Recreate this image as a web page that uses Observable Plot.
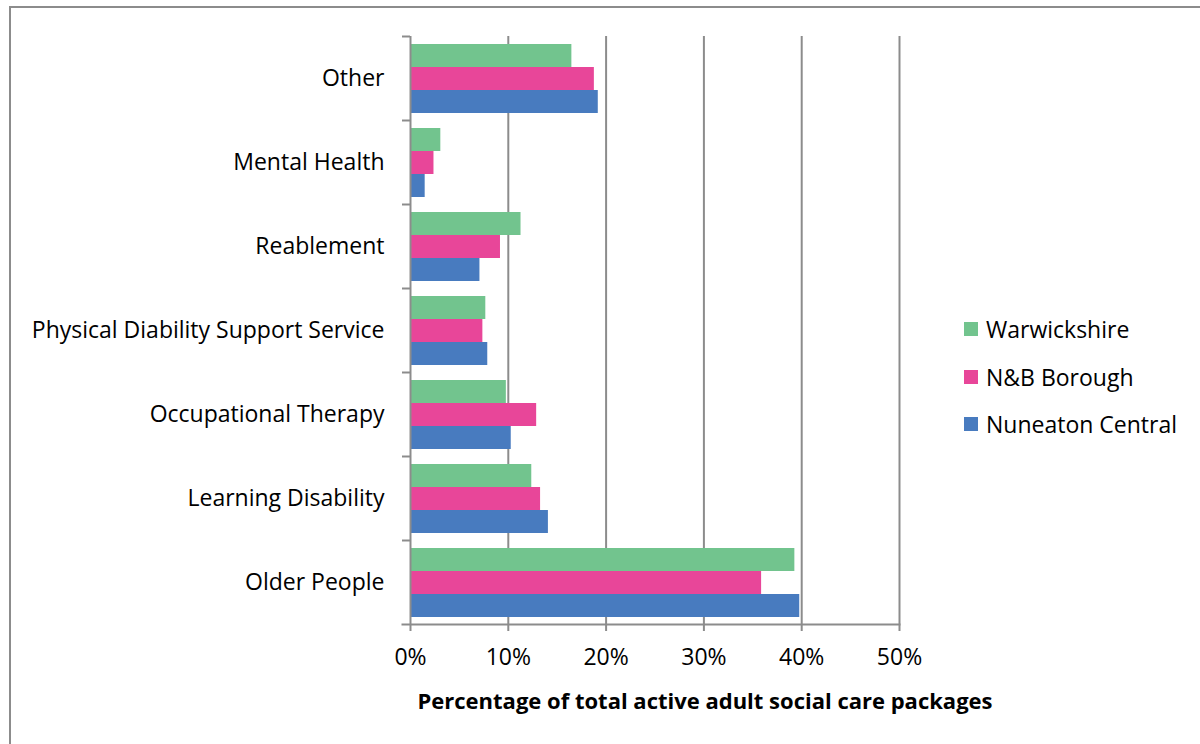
<!DOCTYPE html>
<html>
<head>
<meta charset="utf-8">
<script src="https://cdn.jsdelivr.net/npm/d3@7"></script>
<script src="https://cdn.jsdelivr.net/npm/@observablehq/plot@0.6"></script>
<style>
  html, body { margin: 0; padding: 0; background: #fff; }
  body { width: 1200px; height: 744px; position: relative; overflow: hidden; font-family: "Open Sans", sans-serif; }
  #frame { position: absolute; left: 9px; top: 6px; width: 1300px; height: 900px; border: 2px solid #8c8c8c; box-sizing: border-box; pointer-events: none; }
  #chart { position: absolute; left: 0; top: 0; }
  #xlabel { position: absolute; left: 705px; top: 700px; transform: translate(-50%, -50%); font-weight: bold; font-size: 22px; white-space: nowrap; color: #000; }
  #legend { position: absolute; left: 964px; top: 0; font-size: 23px; color: #000; }
  .lg { position: absolute; left: 0; display: flex; align-items: center; white-space: nowrap; transform: translateY(-50%); }
  .sw { width: 14px; height: 14px; margin-right: 8px; }
</style>
</head>
<body>
<div id="frame"></div>
<div id="chart"></div>
<div id="xlabel"></div>
<div id="legend"></div>
<script>
// ---- data ----
const categories = ["Other", "Mental Health", "Reablement", "Physical Diability Support Service", "Occupational Therapy", "Learning Disability", "Older People"];
const seriesNames = ["Warwickshire", "N&B Borough", "Nuneaton Central"];
const warwickshire = [16.5, 3.1, 11.3, 7.7, 9.8, 12.4, 39.3];
const nbBorough = [18.8, 2.4, 9.2, 7.4, 12.9, 13.3, 35.9];
const nuneatonCentral = [19.2, 1.5, 7.1, 7.9, 10.3, 14.1, 39.8];
const xTicks = [0, 10, 20, 30, 40, 50];
const xTitle = "Percentage of total active adult social care packages";
const colors = ["#72C48E", "#E84699", "#487BBF"];

const seriesValues = [warwickshire, nbBorough, nuneatonCentral];
const data = [];
categories.forEach((c, i) => {
  seriesNames.forEach((s, j) => data.push({category: c, series: s, value: seriesValues[j][i]}));
});

const gray = "#8c8c8c";
const chart = Plot.plot({
  width: 1200,
  height: 744,
  marginLeft: 410,
  marginRight: 301,
  marginTop: 36,
  marginBottom: 120,
  style: {fontFamily: "'Open Sans', sans-serif", fontSize: "23px", color: "#000", background: "transparent", overflow: "visible"},
  x: {domain: [0, 50], label: null},
  y: {domain: seriesNames, paddingInner: 0, paddingOuter: 0.275, axis: null},
  fy: {domain: categories, paddingInner: 0, paddingOuter: 0, label: null},
  color: {domain: seriesNames, range: colors},
  marks: [
    Plot.ruleX(xTicks.slice(1), {stroke: gray, strokeWidth: 2, strokeOpacity: 1}),
    Plot.barX(data, {x: "value", y: "series", fy: "category", fill: "series"}),
    Plot.ruleX([0], {stroke: gray, strokeWidth: 2, strokeOpacity: 1}),
    Plot.frame({anchor: "bottom", facetAnchor: "bottom", insetLeft: -8, stroke: gray, strokeWidth: 2, strokeOpacity: 1}),
    Plot.axisX({ticks: xTicks, tickFormat: d => d + "%", tickSize: 7, tickPadding: 17, stroke: gray, strokeWidth: 2, strokeOpacity: 1, fontSize: 23, label: null}),
    Plot.axisFy({anchor: "left", tickSize: 0, tickPadding: 26, fontSize: 23, label: null}),
    Plot.axisFy({anchor: "left", tickSize: 8, text: null, dy: -42, label: null, stroke: gray, strokeWidth: 2, strokeOpacity: 1})
  ]
});
document.getElementById("chart").appendChild(chart);
document.getElementById("xlabel").textContent = xTitle;

const legendY = [329, 377, 424];
const legend = document.getElementById("legend");
seriesNames.forEach((s, i) => {
  const row = document.createElement("div");
  row.className = "lg";
  row.style.top = legendY[i] + "px";
  const sw = document.createElement("div");
  sw.className = "sw";
  sw.style.background = colors[i];
  const t = document.createElement("span");
  t.textContent = s;
  row.appendChild(sw);
  row.appendChild(t);
  legend.appendChild(row);
});
</script>
</body>
</html>
